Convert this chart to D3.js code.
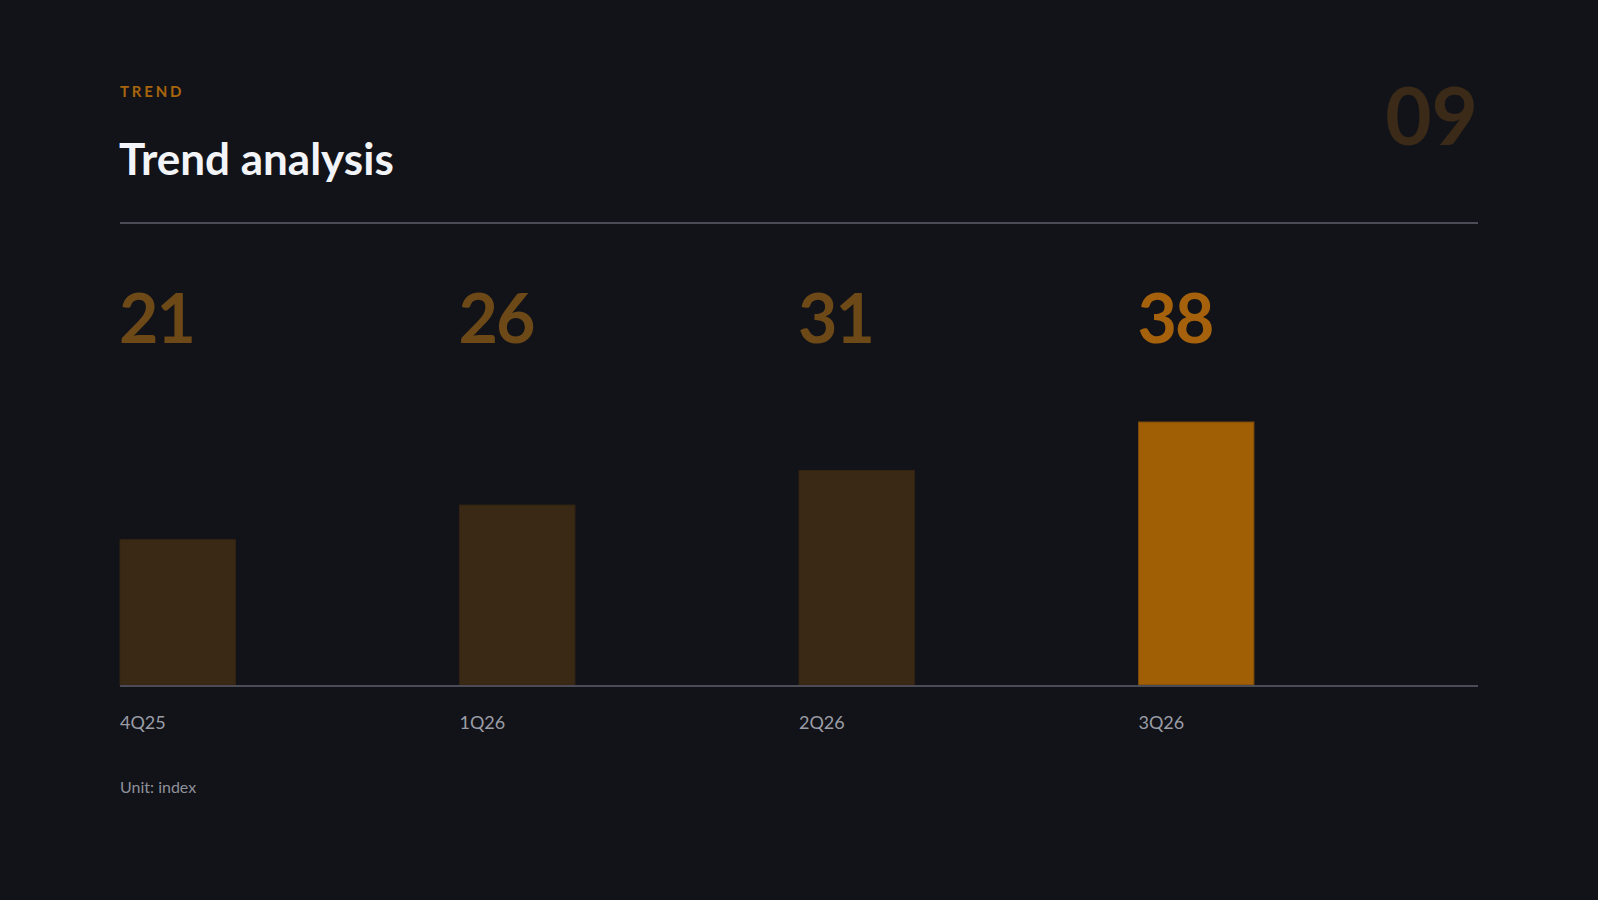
<!DOCTYPE html>
<html>
<head>
<meta charset="utf-8">
<script src="https://cdn.jsdelivr.net/npm/d3@7/dist/d3.min.js"></script>
<style>
  html, body { margin: 0; padding: 0; background: #121319; }
  svg { display: block; }
  text { font-family: Lato, "Noto Sans", sans-serif; }
</style>
</head>
<body>
<svg id="chart" width="1598" height="900"></svg>
<script>
const categories = ["4Q25", "1Q26", "2Q26", "3Q26"];
const values = [21, 26, 31, 38];
const highlight = ["3Q26"];
const eyebrow = "TREND";
const title = "Trend analysis";
const pageNumber = "09";
const unitNote = "Unit: index";

const W = 1598, H = 900;
const left = 120, right = 1478;
const baseY = 685;

const svg = d3.select("#chart");
svg.append("rect").attr("width", W).attr("height", H).attr("fill", "#121319");

svg.append("text").attr("x", left).attr("y", 97)
  .attr("font-size", 15).attr("font-weight", 700)
  .attr("letter-spacing", "2.8px").attr("fill", "#a8650c").text(eyebrow);

svg.append("text").attr("x", left - 1).attr("y", 175)
  .attr("font-size", 44).attr("font-weight", 700)
  .attr("fill", "#f3f4f8").text(title);

svg.append("text").attr("x", right).attr("y", 145)
  .attr("text-anchor", "end")
  .attr("font-size", 80).attr("font-weight", 700)
  .attr("fill", "#3a2a17").text(pageNumber);

svg.append("line").attr("x1", left).attr("x2", right)
  .attr("y1", 223).attr("y2", 223)
  .attr("stroke", "#4a4c56").attr("stroke-width", 2);

const x = d3.scaleBand().domain(categories).range([left, right]).paddingInner(0).paddingOuter(0);
const barW = x.step() * 0.34;
const y = d3.scaleLinear().domain([0, d3.max(values)]).range([baseY, 422]);

const data = categories.map((c, i) => ({ c, v: values[i], hi: highlight.includes(c) }));

svg.selectAll("rect.bar").data(data).join("rect")
  .attr("class", "bar")
  .attr("x", d => x(d.c))
  .attr("y", d => y(d.v))
  .attr("width", barW)
  .attr("height", d => baseY - y(d.v))
  .attr("fill", d => d.hi ? "#a05f05" : "#3a2915")
  .attr("stroke", d => d.hi ? "#7a4a0e" : "#332412")
  .attr("stroke-width", 1);

svg.append("line").attr("x1", left).attr("x2", right)
  .attr("y1", baseY + 1).attr("y2", baseY + 1)
  .attr("stroke", "#4a4c56").attr("stroke-width", 2);

svg.selectAll("text.val").data(data).join("text")
  .attr("class", "val")
  .attr("x", d => x(d.c) - 1)
  .attr("y", 343)
  .attr("font-size", 68).attr("font-weight", 700)
  .attr("letter-spacing", "-2px")
  .attr("fill", d => d.hi ? "#a5610b" : "#6c4917")
  .text(d => d.v);

svg.selectAll("text.cat").data(data).join("text")
  .attr("class", "cat")
  .attr("x", d => x(d.c))
  .attr("y", 729)
  .attr("font-size", 18)
  .attr("fill", "#9b9da6")
  .text(d => d.c);

svg.append("text").attr("x", left).attr("y", 793)
  .attr("font-size", 16).attr("fill", "#8f919a").text(unitNote);
</script>
</body>
</html>
